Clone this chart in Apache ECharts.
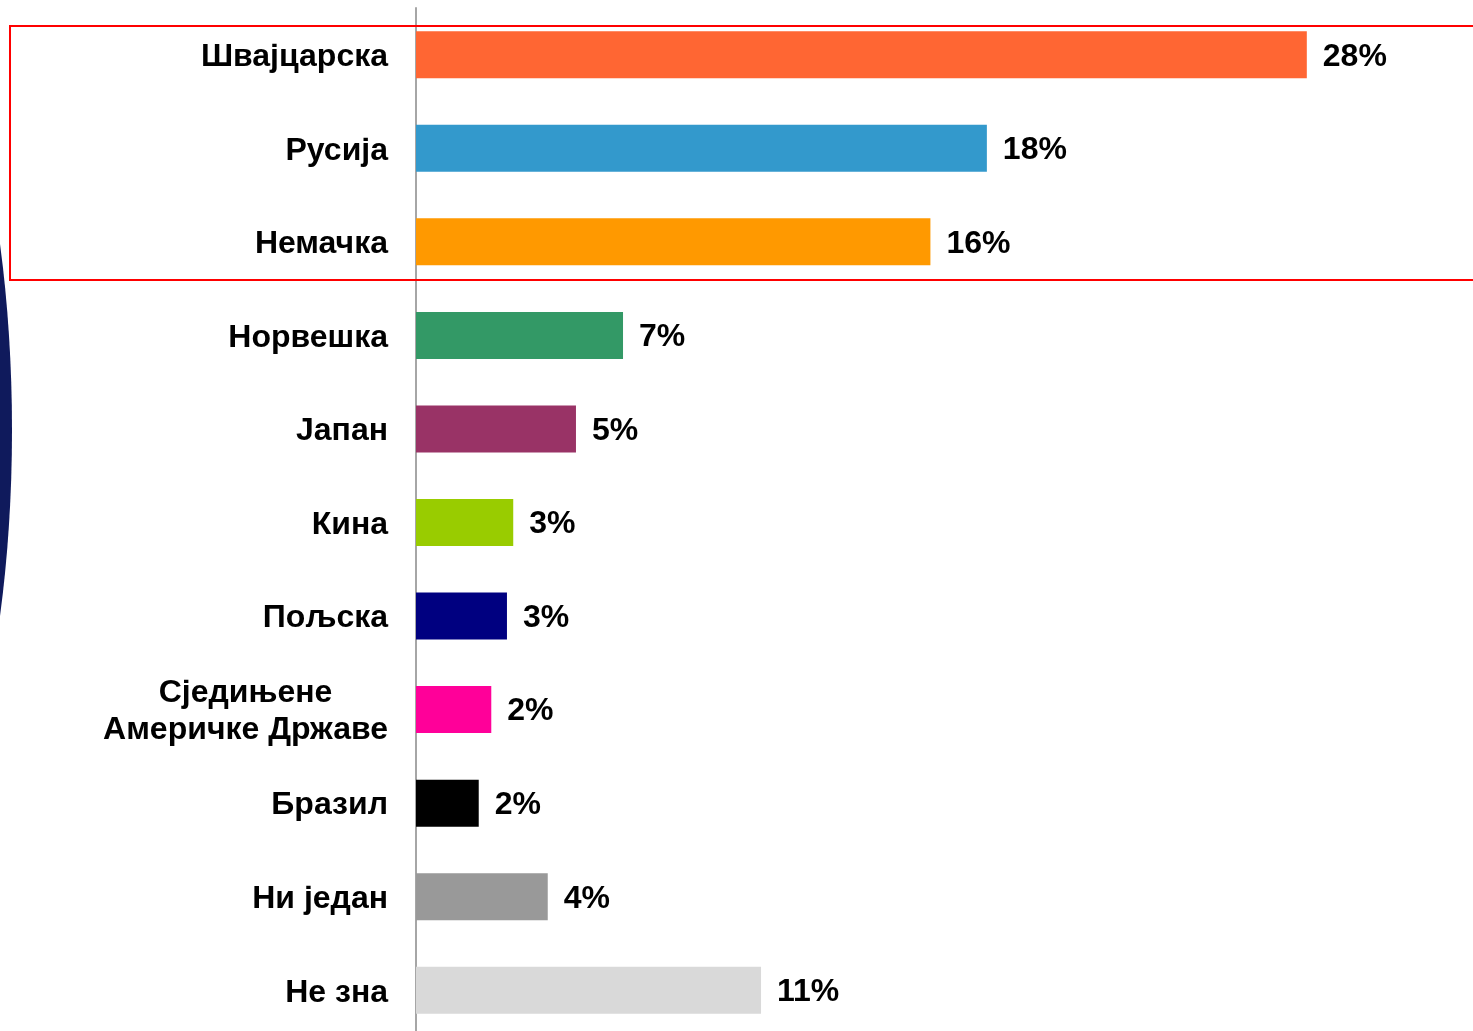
<!DOCTYPE html>
<html>
<head>
<meta charset="utf-8">
<script src="https://cdn.jsdelivr.net/npm/echarts@6/dist/echarts.min.js"></script>
<style>
	html, body { margin: 0; padding: 0; background: #fff; overflow: hidden; }
	#chart { width: 1473px; height: 1045px; }
</style>
</head>
<body>
<div id="chart"></div>
<script>
// категорије и вредности (%)
var categories = ['Швајцарска', 'Русија', 'Немачка', 'Норвешка', 'Јапан', 'Кина', 'Пољска',
	'Сједињене\nАмеричке Државе', 'Бразил', 'Ни један', 'Не зна'];
var values = [28.4, 18.2, 16.4, 6.6, 5.1, 3.1, 2.9, 2.4, 2.0, 4.2, 11.0];
var colors = ['#ff6633', '#3399cc', '#ff9900', '#339966', '#993366', '#99cc00',
	'#000080', '#ff0099', '#000000', '#999999', '#d9d9d9'];

var chart = echarts.init(document.getElementById('chart'));

var barData = [];
for (var i = 0; i < values.length; i++) {
	barData.push({
		value : values[i],
		itemStyle : { color : colors[i] }
	});
}

var font = '"Liberation Sans", Arial, sans-serif';

var option = {
	backgroundColor : '#ffffff',
	animation : false,
	grid : {
		left : 416,
		width : 941,
		top : 8,
		height : 1029
	},
	xAxis : {
		type : 'value',
		min : 0,
		max : 30,
		show : false
	},
	yAxis : {
		type : 'category',
		inverse : true,
		data : categories,
		axisLine : { show : true, lineStyle : { color : '#a6a6a6', width : 2 } },
		axisTick : { show : false },
		axisLabel : {
			margin : 28,
			color : '#000',
			fontFamily : font,
			fontWeight : 'bold',
			fontSize : 32,
			lineHeight : 37,
			padding : [5, 0, 0, 0],
			formatter : function(v) {
				if (v.indexOf('\n') < 0) return v;
				return v.split('\n').map(function(s) { return '{c|' + s + '}'; }).join('\n');
			},
			rich : {
				c : {
					align : 'center',
					color : '#000',
					fontFamily : font,
					fontWeight : 'bold',
					fontSize : 32,
					lineHeight : 37
				}
			}
		}
	},
	series : [ {
		type : 'bar',
		data : barData,
		barWidth : 47,
		label : {
			show : true,
			position : 'right',
			distance : 16,
			offset : [0, 2],
			color : '#000',
			fontFamily : font,
			fontWeight : 'bold',
			fontSize : 32,
			formatter : function(p) { return Math.round(p.value) + '%'; }
		}
	} ],
	graphic : [ {
		// тамноплави лук у позадини
		type : 'ellipse',
		shape : { cx : -200, cy : 430, rx : 212, ry : 560 },
		style : { fill : '#0f1a5c' },
		z : -10
	}, {
		type : 'rect',
		shape : { x : 10, y : 26, width : 1470, height : 254 },
		style : { fill : 'rgba(0,0,0,0)', stroke : '#ff0000', lineWidth : 2 },
		z : 10
	} ]
};

chart.setOption(option);
</script>
</body>
</html>
